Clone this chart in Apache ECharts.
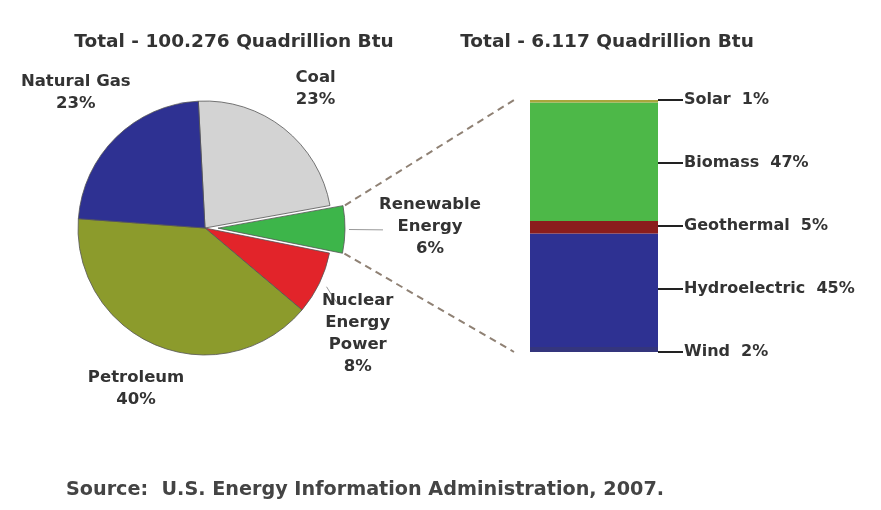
<!DOCTYPE html>
<html>
<head>
<meta charset="utf-8">
<script src="https://cdn.jsdelivr.net/npm/echarts@6/dist/echarts.min.js"></script>
<style>
  html, body { margin: 0; padding: 0; background: #ffffff; }
  #chart { width: 881px; height: 510px; }
</style>
</head>
<body>
<div id="chart"></div>
<script>
// U.S. primary energy consumption by source, with the renewable share broken out
const sources = ['Coal', 'Renewable Energy', 'Nuclear Energy Power', 'Petroleum', 'Natural Gas'];
const sourceShares = [23, 6, 8, 40, 23];
const sourceLabels = ['Coal\n23%', 'Renewable\nEnergy\n6%', 'Nuclear\nEnergy\nPower\n8%', 'Petroleum\n40%', 'Natural Gas\n23%'];

const renewables = ['Wind', 'Hydroelectric', 'Geothermal', 'Biomass', 'Solar'];
const renewableShares = [2, 45, 5, 47, 1];
const renewableTicks = ['Wind  2%', 'Hydroelectric  45%', 'Geothermal  5%', 'Biomass  47%', 'Solar  1%'];

const totalTitle = 'Total - 100.276 Quadrillion Btu';
const renewableTitle = 'Total - 6.117 Quadrillion Btu';
const sourceNote = 'Source:  U.S. Energy Information Administration, 2007.';

// styling / layout
const sourceColors = ['#d3d3d3', '#3db54a', '#e2242a', '#8c9b2c', '#2e3192'];
const renewableColors = ['#34357d', '#2e3192', '#8b1d1d', '#4db848', '#a8a63c'];
const PIE_CX = 205, PIE_CY = 228, PIE_R = 127, START = 93, EXPLODE = 13;
const HIGHLIGHT = 1; // index of the slice pulled out of the pie
// label distance from pie centre and angular nudge (degrees), per source
const labelPlace = [[178, 0], [225, 0.8], [186, -9], [175, -1], [187, -0.7]];
const FONT = 'DejaVu Sans, Verdana, sans-serif';
const GRID = { left: 530, top: 100, width: 128, height: 252 };
const CLEAR = 'rgba(0,0,0,0)';

const total = sourceShares.reduce((a, b) => a + b, 0);
const midAngles = [];
(function () {
  let acc = 0;
  sourceShares.forEach(v => {
    midAngles.push(START - (acc + v / 2) / total * 360);
    acc += v;
  });
})();
const rad = d => d * Math.PI / 180;
const polar = (deg, d) => [PIE_CX + d * Math.cos(rad(deg)), PIE_CY - d * Math.sin(rad(deg))];
const explodeDx = EXPLODE * Math.cos(rad(midAngles[HIGHLIGHT]));
const explodeDy = -EXPLODE * Math.sin(rad(midAngles[HIGHLIGHT]));

const chart = echarts.init(document.getElementById('chart'));

const labelStyle = {
  show: true,
  position: 'outside',
  overflow: 'none',
  formatter: p => sourceLabels[p.dataIndex],
  fontFamily: FONT, fontSize: 16.5, fontWeight: 'bold', color: '#333', lineHeight: 22
};

function placeLabel(p) {
  const i = p.dataIndex;
  const mid = midAngles[i];
  const pl = labelPlace[i];
  const pos = polar(mid + pl[1], pl[0]);
  const out = { x: pos[0], y: pos[1], align: 'center', verticalAlign: 'middle' };
  if (i === HIGHLIGHT) {
    out.labelLinePoints = [polar(mid, PIE_R + EXPLODE + 4), polar(mid, PIE_R + EXPLODE + 20), polar(mid, PIE_R + EXPLODE + 38)];
  } else if (i === 2) {
    out.labelLinePoints = [polar(mid, PIE_R + 8), polar(mid - 2, PIE_R + 16), polar(mid - 4, PIE_R + 26)];
  }
  return out;
}

// the pie proper, with the highlighted slice left empty
const mainPieData = sources.map((name, i) => ({
  name: name,
  value: sourceShares[i],
  itemStyle: i === HIGHLIGHT ? { color: CLEAR, borderWidth: 0 } : { color: sourceColors[i] },
  label: { show: i !== HIGHLIGHT },
  labelLine: { show: i === 2 }
}));

// the same pie shifted outwards, showing only the highlighted slice
const outPieData = sources.map((name, i) => ({
  name: name,
  value: sourceShares[i],
  itemStyle: i === HIGHLIGHT ? { color: sourceColors[i] } : { color: CLEAR, borderWidth: 0 },
  label: { show: i === HIGHLIGHT },
  labelLine: { show: i === HIGHLIGHT }
}));

const pieBase = {
  type: 'pie',
  radius: PIE_R,
  startAngle: START,
  clockwise: true,
  avoidLabelOverlap: false,
  silent: true,
  itemStyle: { borderColor: '#555', borderWidth: 0.8 },
  label: labelStyle,
  labelLine: { lineStyle: { color: '#999', width: 1 } },
  labelLayout: placeLabel
};

const barSeries = renewables.map((name, i) => ({
  name: name,
  type: 'bar',
  stack: 'renewable',
  barWidth: '100%',
  data: [renewableShares[i]],
  itemStyle: { color: renewableColors[i] },
  silent: true
}));

chart.setOption({
  animation: false,
  backgroundColor: '#ffffff',
  title: [
    { text: totalTitle, left: 229, top: 28, textAlign: 'center',
      textStyle: { fontFamily: FONT, fontSize: 18.5, fontWeight: 'bold', color: '#333' } },
    { text: renewableTitle, left: 602, top: 28, textAlign: 'center',
      textStyle: { fontFamily: FONT, fontSize: 18.5, fontWeight: 'bold', color: '#333' } },
    { text: sourceNote, left: 61, top: 476,
      textStyle: { fontFamily: FONT, fontSize: 19.2, fontWeight: 'bold', color: '#444' } }
  ],
  grid: { left: GRID.left, top: GRID.top, width: GRID.width, height: GRID.height },
  xAxis: { type: 'category', data: ['Renewable'], show: false },
  yAxis: {
    type: 'value', position: 'right', min: 0, max: 100, interval: 25,
    axisLine: { show: false },
    splitLine: { show: false },
    axisTick: { show: true, length: 25, lineStyle: { color: '#222', width: 2 } },
    axisLabel: {
      margin: 26,
      formatter: v => renewableTicks[Math.round(v / 25)] || '',
      fontFamily: FONT, fontSize: 16, fontWeight: 'bold', color: '#333'
    }
  },
  series: [
    Object.assign({}, pieBase, { center: [PIE_CX, PIE_CY], data: mainPieData }),
    Object.assign({}, pieBase, { center: [PIE_CX + explodeDx, PIE_CY + explodeDy], data: outPieData })
  ].concat(barSeries)
});

// dashed connectors from the pulled-out slice to the breakdown bar
(function () {
  let acc = 0;
  for (let i = 0; i < HIGHLIGHT; i++) acc += sourceShares[i];
  const a1 = START - acc / total * 360;
  const a2 = a1 - sourceShares[HIGHLIGHT] / total * 360;
  const c1 = polar(a1, PIE_R + 2), c2 = polar(a2, PIE_R + 2);
  const yTop = chart.convertToPixel({ yAxisIndex: 0 }, 100);
  const yBot = chart.convertToPixel({ yAxisIndex: 0 }, 0);
  const xEnd = GRID.left - 16;
  const dash = { stroke: '#8f8174', lineWidth: 2, lineDash: [7, 5] };
  chart.setOption({
    graphic: [
      { type: 'line', silent: true, shape: { x1: c1[0] + explodeDx, y1: c1[1] + explodeDy, x2: xEnd, y2: yTop }, style: dash },
      { type: 'line', silent: true, shape: { x1: c2[0] + explodeDx, y1: c2[1] + explodeDy, x2: xEnd, y2: yBot }, style: dash }
    ]
  });
})();
</script>
</body>
</html>
